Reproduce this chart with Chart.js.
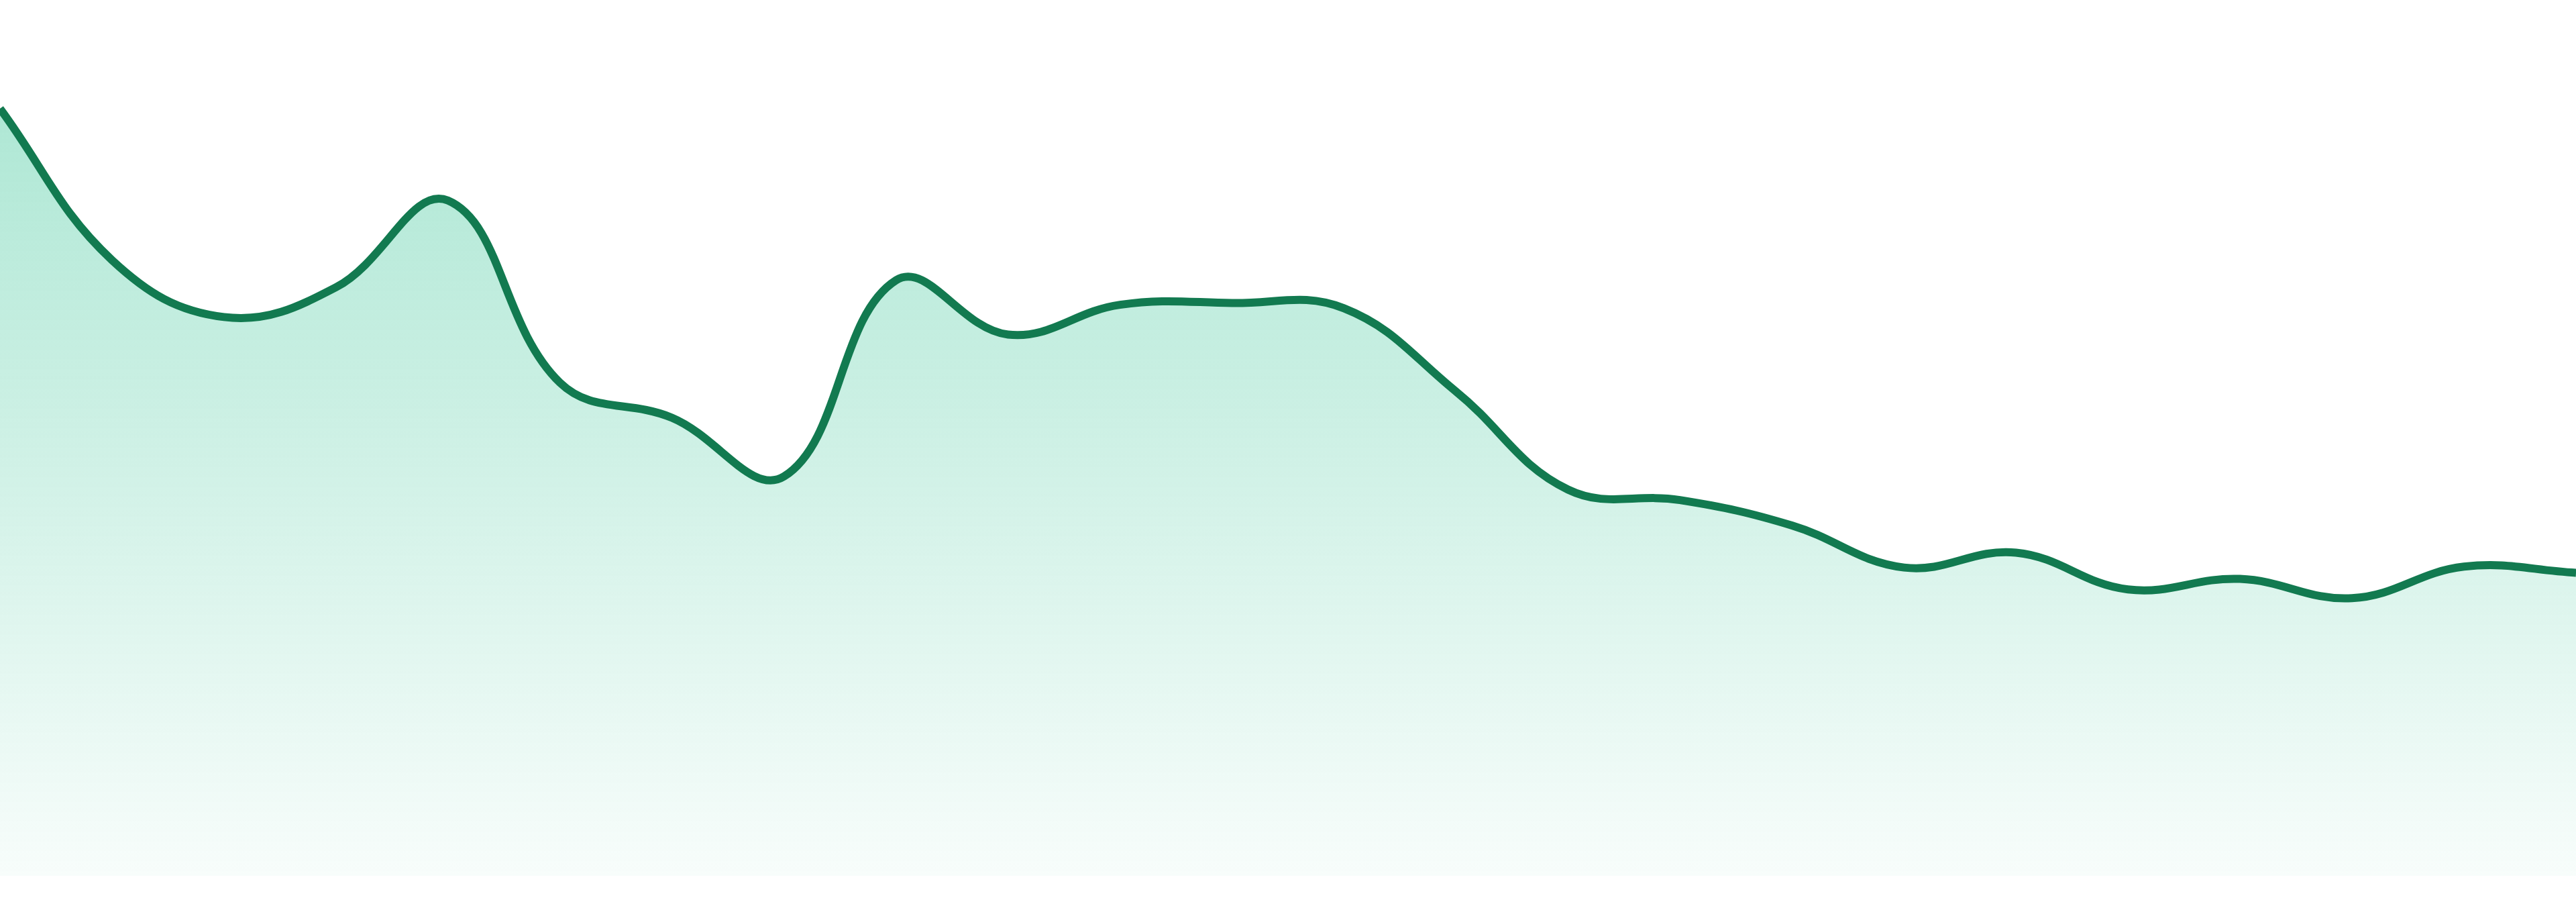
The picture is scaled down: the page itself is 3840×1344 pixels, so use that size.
<!DOCTYPE html>
<html>
<head>
<meta charset="utf-8">
<script src="https://cdn.jsdelivr.net/npm/chart.js@4.4.1/dist/chart.umd.min.js"></script>
<style>
  html, body { margin: 0; padding: 0; background: #fff; }
  .wrap { width: 3840px; height: 1344px; position: relative; }
</style>
</head>
<body>
<div class="wrap"><canvas id="myChart"></canvas></div>
<script>
// 24 evenly spaced samples
const labels = ['1','2','3','4','5','6','7','8','9','10','11','12','13','14','15','16','17','18','19','20','21','22','23','24'];
const values = [87.6, 70.3, 63.8, 67.2, 77.1, 56.3, 52.3, 45.6, 68.0, 61.8, 65.2, 65.4,
                64.8, 55.3, 44.1, 42.9, 40.0, 35.2, 36.9, 32.7, 33.9, 31.7, 35.3, 34.6];
const yMin = 0;
const yMax = 100;

const ctx = document.getElementById('myChart');

new Chart(ctx, {
  type: 'line',
  data: {
    labels: labels,
    datasets: [{
      data: values,
      borderColor: '#127a50',
      borderWidth: 12,
      tension: 0.4,
      pointRadius: 0,
      pointHoverRadius: 0,
      fill: 'origin',
      backgroundColor: function (c) {
        const area = c.chart.chartArea;
        if (!area) return 'rgba(16,185,129,0.2)';
        const g = c.chart.ctx.createLinearGradient(0, area.top, 0, area.bottom);
        g.addColorStop(0, 'rgba(16,185,129,0.38)');
        g.addColorStop(1, 'rgba(16,185,129,0.03)');
        return g;
      }
    }]
  },
  options: {
    responsive: true,
    maintainAspectRatio: false,
    animation: false,
    layout: { padding: { top: 0, left: 0, right: 0, bottom: 39 } },
    plugins: {
      legend: { display: false },
      tooltip: { enabled: false }
    },
    scales: {
      x: { display: false, offset: false },
      y: { display: false, min: yMin, max: yMax }
    }
  }
});
</script>
</body>
</html>
